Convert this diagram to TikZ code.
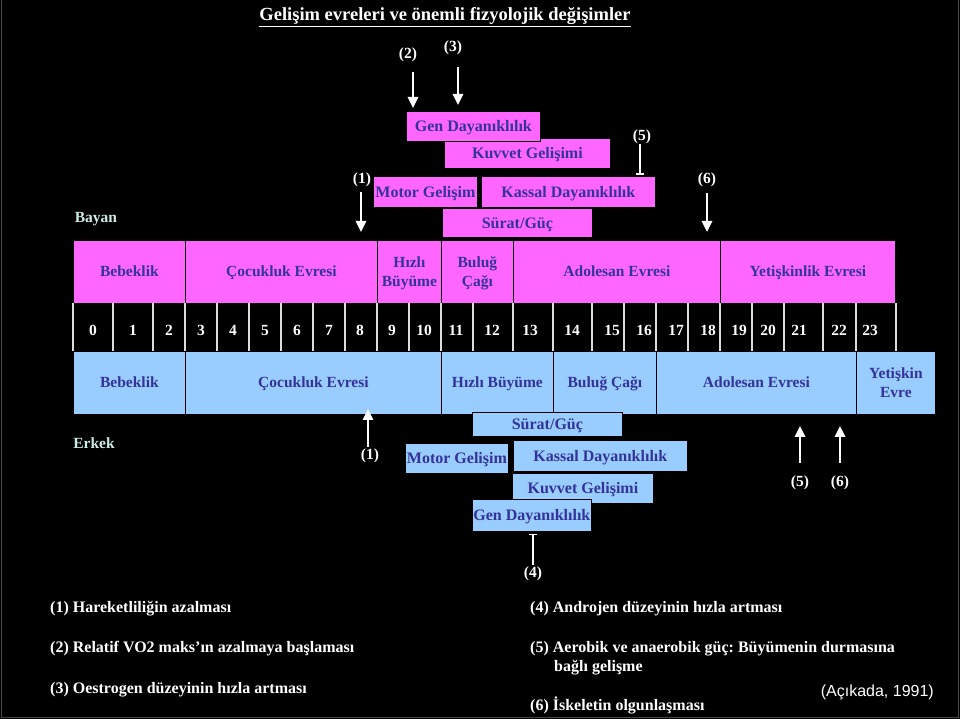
\documentclass[tikz,border=0pt]{standalone}
\usepackage{fontspec}
\setmainfont{Liberation Serif}
\newfontfamily\arialf{Liberation Sans}
\usetikzlibrary{arrows.meta}
\frenchspacing
\definecolor{pinkc}{RGB}{255,102,255}
\definecolor{bluec}{RGB}{153,204,255}
\definecolor{boxtxt}{RGB}{51,51,153}
\definecolor{sextxt}{RGB}{204,236,232}
\definecolor{divc}{RGB}{220,220,220}
\definecolor{framec}{RGB}{70,70,70}
\newcommand\tabf{\fontsize{15.5}{19.5}\selectfont\bfseries}
\newcommand\boxf{\fontsize{16}{19.5}\selectfont\bfseries}
\newcommand\titf{\fontsize{18.5}{22}\selectfont\bfseries}
\newcommand\legf{\fontsize{16}{19}\selectfont\bfseries}
\newcommand\cs{\vphantom{Ğg}}
\tikzset{
  cellbox/.style={draw=black, line width=0.8pt, text=boxtxt, font=\tabf, inner sep=0pt, anchor=north west, align=center},
  pcell/.style={cellbox, fill=pinkc},
  bcell/.style={cellbox, fill=bluec},
  pfeat/.style={pcell, font=\boxf},
  bfeat/.style={bcell, font=\boxf},
  numlbl/.style={text=white, font=\tabf, inner sep=0pt, text height=10.5pt, text depth=0pt},
  marklbl/.style={text=white, font=\tabf, inner sep=0pt, text height=10pt, text depth=3pt},
  sexlbl/.style={text=sextxt, font=\tabf, inner sep=0pt},
  legend/.style={text=white, font=\legf, inner sep=0pt, anchor=base west},
  arr/.style={draw=white, line width=2.5pt, -{Triangle[width=10pt,length=11pt]}},
  barr/.style={draw=white, line width=2.5pt, -{Bar[width=8pt,line width=1.5pt]}},
  divline/.style={draw=divc, line width=1.2pt}
}
\begin{document}
\begin{tikzpicture}[x=1pt,y=-1pt]
\useasboundingbox (0,0) rectangle (960,719);
\fill[black] (0,0) rectangle (960,719);
\draw[framec, line width=0.8pt] (1.5,0) -- (1.5,717.5) -- (958.5,717.5) -- (958.5,0);

% title
\node[text=white, font=\titf, inner sep=0pt, anchor=base] (title) at (445,21)
  {\underline{Gelişim evreleri ve önemli fizyolojik değişimler}};

% sex labels
\node[sexlbl] (bayan) at (96,219) {Bayan};
\node[sexlbl] (erkek) at (94,443) {Erkek};

% pink (female) row
\node[pcell, minimum width=112pt, minimum height=63pt] (pc1) at (73,240) {\cs Bebeklik};
\node[pcell, minimum width=192pt, minimum height=63pt] (pc2) at (185,240) {\cs Çocukluk Evresi};
\node[pcell, minimum width=64pt, minimum height=63pt] (pc3) at (377,240) {\cs Hızlı\\Büyüme\cs};
\node[pcell, minimum width=72pt, minimum height=63pt] (pc4) at (441,240) {\cs Buluğ\\Çağı\cs};
\node[pcell, minimum width=207pt, minimum height=63pt] (pc5) at (513,240) {\cs Adolesan Evresi};
\node[pcell, minimum width=175pt, minimum height=63pt] (pc6) at (720,240) {\cs Yetişkinlik Evresi};

% age numbers
\foreach \xx in {73,113,153,185,217,249,281,313,345,377,409,441,473,513,553,592,624,656,688,720,752,784,823,856,896}
  \draw[divline] (\xx,303) -- (\xx,351);
\foreach \xx/\nn in {93/0,133/1,169/2,201/3,233/4,265/5,297/6,329/7,360/8,392/9,424/10,456/11,492/12,530/13,572/14,612/15,644/16,676/17,708/18,739/19,768/20,799/21,839/22,870/23}
  \node[numlbl] (n\nn) at (\xx,330) {\nn};

% blue (male) row
\node[bcell, minimum width=112pt, minimum height=63pt] (bc1) at (73,351) {\cs Bebeklik};
\node[bcell, minimum width=256pt, minimum height=63pt] (bc2) at (185,351) {\cs Çocukluk Evresi};
\node[bcell, minimum width=112pt, minimum height=63pt] (bc3) at (441,351) {\cs Hızlı Büyüme};
\node[bcell, minimum width=103pt, minimum height=63pt] (bc4) at (553,351) {\cs Buluğ Çağı};
\node[bcell, minimum width=200pt, minimum height=63pt] (bc5) at (656,351) {\cs Adolesan Evresi};
\node[bcell, minimum width=79pt, minimum height=63pt] (bc6) at (856,351) {\cs Yetişkin\\Evre\cs};

% upper (female) feature boxes
\node[pfeat, minimum width=166pt, minimum height=30pt] (kuvu) at (444,138) {\cs Kuvvet Gelişimi};
\node[pfeat, minimum width=134pt, minimum height=30pt] (genu) at (406,111) {\cs Gen Dayanıklılık};
\node[pfeat, minimum width=150pt, minimum height=29pt] (suru) at (442,208) {\cs Sürat/Güç};
\node[pfeat, minimum width=104pt, minimum height=31pt] (motu) at (373,176) {\cs Motor Gelişim};
\node[pfeat, minimum width=174pt, minimum height=31pt] (kasu) at (481,176) {\cs Kassal Dayanıklılık};

% lower (male) feature boxes
\node[bfeat, minimum width=150pt, minimum height=24pt] (surd) at (472,412) {\cs Sürat/Güç};
\node[bfeat, minimum width=103pt, minimum height=30pt] (motd) at (405,443) {\cs Motor Gelişim};
\node[bfeat, minimum width=174pt, minimum height=31pt] (kasd) at (513,440) {\cs Kassal Dayanıklılık};
\node[bfeat, minimum width=141pt, minimum height=30pt] (kuvd) at (512,473) {\cs Kuvvet Gelişimi};
\node[bfeat, minimum width=119pt, minimum height=32pt] (gend) at (472,499) {\cs Gen Dayanıklılık};

% upper markers
\node[marklbl] (m2u) at (408,55) {(2)};
\node[marklbl] (m3u) at (453,48) {(3)};
\node[marklbl] (m1u) at (362,180) {(1)};
\node[marklbl] (m5u) at (642,137) {(5)};
\node[marklbl] (m6u) at (707,180) {(6)};
\draw[arr] ([xshift=5pt,yshift=-10.5pt]m2u.south) -- ([xshift=7pt,yshift=3pt]genu.north west);
\draw[arr] ([xshift=5pt,yshift=-12.5pt]m3u.south) -- ([xshift=52pt,yshift=6pt]genu.north west);
\draw[arr] ([xshift=-1pt,yshift=-5.5pt]m1u.south) -- ([xshift=176pt,yshift=8pt]pc2.north west);
\draw[barr] ([xshift=-2pt]m5u.south) -- ([xshift=159pt,yshift=1pt]kasu.north west);
\draw[arr] ([yshift=-6.5pt]m6u.south) -- ([xshift=194pt,yshift=8pt]pc5.north west);

% lower markers
\node[marklbl] (m1d) at (370,456) {(1)};
\node[marklbl] (m5d) at (800,483) {(5)};
\node[marklbl] (m6d) at (840,483) {(6)};
\node[marklbl] (m4d) at (533,574) {(4)};
\draw[arr] ([xshift=-2pt,yshift=2.5pt]m1d.north) -- ([xshift=183pt,yshift=6pt]bc2.south west);
\draw[arr] ([yshift=13.5pt]m5d.north) -- ([xshift=144pt,yshift=-11pt]bc5.south west);
\draw[arr] ([yshift=13.5pt]m6d.north) -- ([xshift=184pt,yshift=-11pt]bc5.south west);
\draw[barr] ([yshift=2.5pt]m4d.north) -- ([xshift=61pt,yshift=-2pt]gend.south west);

% legend
\node[legend] (lg1) at (50,612) {(1) Hareketliliğin azalması};
\node[legend] (lg2) at (50,652) {(2) Relatif VO2 maks’ın azalmaya başlaması};
\node[legend] (lg3) at (50,693) {(3) Oestrogen düzeyinin hızla artması};
\node[legend] (lg4) at (530,612) {(4) Androjen düzeyinin hızla artması};
\node[legend] (lg5) at (530,652) {(5) Aerobik ve anaerobik güç: Büyümenin durmasına};
\node[legend] (lg5b) at (554,671) {bağlı gelişme};
\node[legend] (lg6) at (530,710) {(6) İskeletin olgunlaşması};
\node[text=white, font=\arialf\fontsize{16}{19}\selectfont, inner sep=0pt, anchor=base east] (cite) at (934,696) {(Açıkada, 1991)};
\end{tikzpicture}
\end{document}
